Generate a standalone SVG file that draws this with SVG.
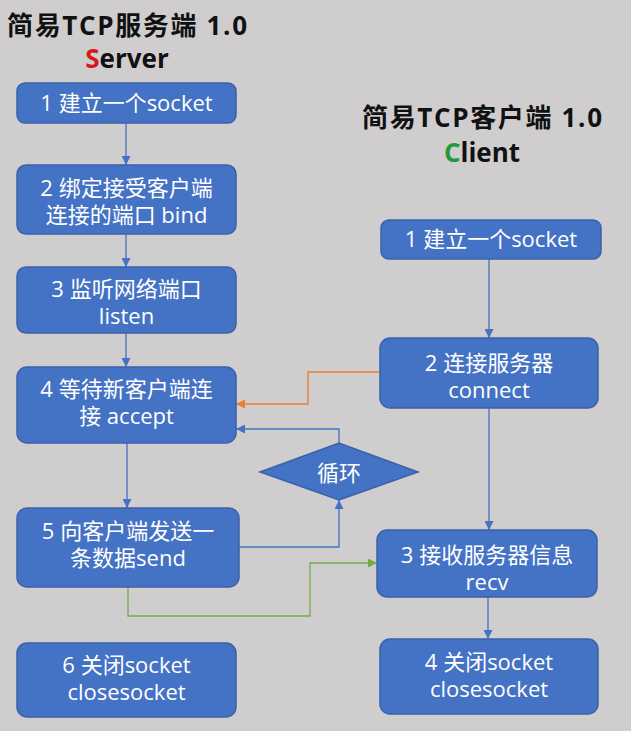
<svg xmlns="http://www.w3.org/2000/svg" width="631" height="731" viewBox="0 0 631 731">
<style>
.bg{fill:#d0cdce}
.box{fill:#4472c4;stroke:#3a62a8;stroke-width:1.5}
.t{font-family:"Open Sans","Noto Sans CJK SC",sans-serif;font-size:22px;fill:#ffffff;text-anchor:middle}
.title{font-family:"Open Sans","Noto Sans CJK SC",sans-serif;font-size:26px;font-weight:bold;fill:#111111;text-anchor:middle}
.c{fill:none;stroke-width:1.3}
.blue{stroke:#4472c4}
.orange{stroke:#ed7d31}
.green{stroke:#70ad47}
</style>
<defs>
<marker id="ab" viewBox="0 0 10 10" refX="10" refY="5" markerWidth="9" markerHeight="9" markerUnits="userSpaceOnUse" orient="auto"><path d="M0,0L10,5L0,10z" fill="#4472c4"/></marker>
<marker id="ao" viewBox="0 0 10 10" refX="10" refY="5" markerWidth="9" markerHeight="9" markerUnits="userSpaceOnUse" orient="auto"><path d="M0,0L10,5L0,10z" fill="#ed7d31"/></marker>
<marker id="ag" viewBox="0 0 10 10" refX="10" refY="5" markerWidth="9" markerHeight="9" markerUnits="userSpaceOnUse" orient="auto"><path d="M0,0L10,5L0,10z" fill="#70ad47"/></marker>
</defs>
<rect class="bg" x="0" y="0" width="631" height="731"/>
<g id="titles">
<text class="title" x="127" y="35" textLength="240" lengthAdjust="spacing">简易TCP服务端 1.0</text>
<text class="title" x="127" y="68"><tspan fill="#d41a1a">S</tspan>erver</text>
<text class="title" x="482" y="127" textLength="240" lengthAdjust="spacing">简易TCP客户端 1.0</text>
<text class="title" x="482" y="162"><tspan fill="#1f9a3c">C</tspan>lient</text>
</g>
<g id="connectors">
<path class="c blue" d="M126,123V165" marker-end="url(#ab)"/>
<path class="c blue" d="M126,234V267" marker-end="url(#ab)"/>
<path class="c blue" d="M126,333V367" marker-end="url(#ab)"/>
<path class="c blue" d="M127,443V508" marker-end="url(#ab)"/>
<path class="c blue" d="M239,547H339V500" marker-end="url(#ab)"/>
<path class="c blue" d="M339,443V429H236" marker-end="url(#ab)"/>
<path class="c orange" d="M380,372H308V404H236" marker-end="url(#ao)"/>
<path class="c green" d="M128,587V616H310V563H377" marker-end="url(#ag)"/>
<path class="c blue" d="M489,259V338" marker-end="url(#ab)"/>
<path class="c blue" d="M489,408V530" marker-end="url(#ab)"/>
<path class="c blue" d="M488,597V639" marker-end="url(#ab)"/>
</g>
<g id="s1"><rect class="box" x="17" y="83" width="219" height="40" rx="8"/><text class="t" x="126.5" y="111">1 建立一个socket</text></g>
<g id="s2"><rect class="box" x="17" y="165" width="219" height="69" rx="9"/><text class="t" x="126.5" y="196">2 绑定接受客户端</text><text class="t" x="126.5" y="223">连接的端口 bind</text></g>
<g id="s3"><rect class="box" x="17" y="267" width="219" height="66" rx="9"/><text class="t" x="126.5" y="297">3 监听网络端口</text><text class="t" x="126.5" y="324">listen</text></g>
<g id="s4"><rect class="box" x="17" y="367" width="219" height="76" rx="10"/><text class="t" x="126.5" y="397">4 等待新客户端连</text><text class="t" x="126.5" y="424">接 accept</text></g>
<g id="s5"><rect class="box" x="17" y="508" width="222" height="79" rx="10"/><text class="t" x="128" y="539">5 向客户端发送一</text><text class="t" x="128" y="566">条数据send</text></g>
<g id="s6"><rect class="box" x="17" y="643" width="219" height="74" rx="10"/><text class="t" x="126.5" y="673">6 关闭socket</text><text class="t" x="126.5" y="700">closesocket</text></g>
<g id="loop"><path class="box" d="M260,472L339,443L418,472L339,500z"/><text class="t" x="339" y="481">循环</text></g>
<g id="c1"><rect class="box" x="381" y="220" width="220" height="39" rx="8"/><text class="t" x="491" y="247">1 建立一个socket</text></g>
<g id="c2"><rect class="box" x="380" y="338" width="218" height="70" rx="10"/><text class="t" x="489" y="371">2 连接服务器</text><text class="t" x="489" y="398">connect</text></g>
<g id="c3"><rect class="box" x="377" y="530" width="220" height="67" rx="10"/><text class="t" x="487" y="563">3 接收服务器信息</text><text class="t" x="487" y="590">recv</text></g>
<g id="c4"><rect class="box" x="380" y="639" width="218" height="75" rx="10"/><text class="t" x="489" y="670">4 关闭socket</text><text class="t" x="489" y="697">closesocket</text></g>
</svg>
